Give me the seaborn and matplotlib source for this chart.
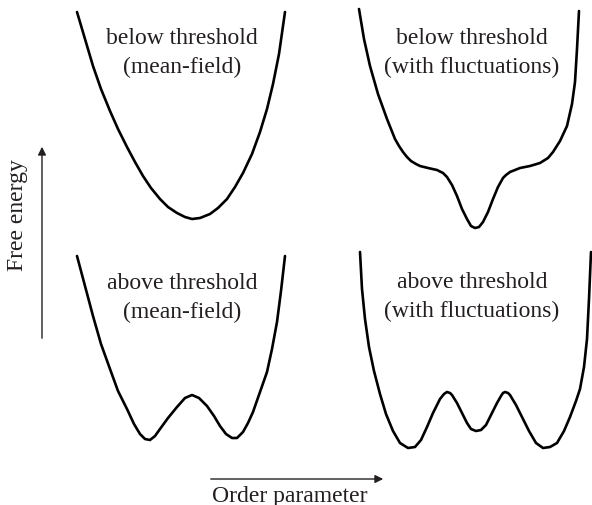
import pandas as pd
import seaborn as sns
import matplotlib.pyplot as plt
from matplotlib.patches import FancyArrowPatch

sns.set_style("white")
plt.rcParams['font.family'] = ['Liberation Serif', 'DejaVu Serif']

# Order parameter (x) and free energy (y), one pair per panel
below_mf_x = [17, 25, 33, 41, 50, 58, 67, 75, 83, 91, 100, 108, 117, 125, 132,
              140, 150, 158, 167, 175, 183, 192, 200, 207, 213, 219, 225]
below_mf_y = [227, 200, 173, 150, 128, 110, 92, 77, 63, 51, 40, 32, 26, 22, 20,
              21, 25, 31, 40, 52, 66, 85, 107, 130, 155, 185, 227]

below_fl_x = [19, 24, 30, 38, 47, 55, 59, 63, 67, 71, 76, 80, 88, 97, 103, 107, 112, 117, 122,
              127, 131, 135, 139, 143, 148, 153, 158, 163, 166, 170, 175, 180, 190, 200, 208,
              213, 220, 227, 232, 235, 237, 239]
below_fl_y = [230, 200, 173, 145, 120, 100, 93, 87, 82, 78, 75, 73, 71, 69, 66, 62, 54, 43, 30,
              20, 13, 11, 12, 17, 27, 40, 52, 61, 64, 67, 69, 71, 73, 76, 81,
              87, 98, 113, 135, 157, 190, 228]

above_mf_x = [17, 25, 33, 41, 50, 58, 67, 74, 80, 85, 90, 95, 100, 108, 117, 125, 132,
              139, 147, 154, 160, 166, 172, 177, 183, 188, 193, 200, 207, 212, 217, 221, 225]
above_mf_y = [203, 173, 143, 115, 90, 68, 50, 35, 25, 20, 19, 23, 30, 41, 52, 61, 64,
              61, 53, 43, 33, 25, 21, 21, 27, 36, 47, 67, 87, 110, 137, 168, 203]

above_fl_x = [20, 22, 25, 29, 34, 40, 46, 53, 60, 68, 75, 81, 87, 93, 100, 104, 107, 110, 112,
              117, 122, 127, 131, 136, 141, 146, 151, 157, 161, 163, 165, 168, 170, 176, 182,
              189, 196, 203, 210, 217, 224, 230, 236, 240, 244, 247, 249, 251]
above_fl_y = [207, 170, 140, 112, 88, 65, 45, 28, 16, 11, 12, 19, 32, 46, 60, 65, 67, 66, 64,
              56, 46, 36, 30, 28, 29, 34, 44, 56, 63, 66, 67, 66, 64, 54, 42,
              28, 16, 11, 12, 16, 28, 42, 58, 70, 92, 120, 160, 207]

titles = ["below threshold\n(mean-field)", "below threshold\n(with fluctuations)",
          "above threshold\n(mean-field)", "above threshold\n(with fluctuations)"]
x_label = "Order parameter"
y_label = "Free energy"

W, H = 592, 506
fig = plt.figure(figsize=(W / 100, H / 100), dpi=100)

panels = [
    (below_mf_x, below_mf_y, [60, 0, 250, 240], (122, 187)),
    (below_fl_x, below_fl_y, [340, 0, 252, 240], (132, 187)),
    (above_mf_x, above_mf_y, [60, 240, 250, 220], (122, 162)),
    (above_fl_x, above_fl_y, [340, 240, 252, 220], (132, 163)),
]

for (xs, ys, box, tpos), title in zip(panels, titles):
    left, top, w, h = box
    ax = fig.add_axes([left / W, 1 - (top + h) / H, w / W, h / H])
    df = pd.DataFrame({"order": xs, "energy": ys})
    sns.lineplot(data=df, x="order", y="energy", sort=False, color="black",
                 linewidth=1.9, ax=ax)
    ax.lines[0].set_solid_joinstyle("round")
    ax.lines[0].set_solid_capstyle("round")
    ax.text(tpos[0], tpos[1], title, ha="center", va="center", fontsize=17,
            color="#231f20", linespacing=1.5)
    ax.set_xlim(0, w)
    ax.set_ylim(0, h)
    ax.axis("off")

# axis arrows
fig.patches.append(FancyArrowPatch(
    (42 / W, 1 - 342 / H), (42 / W, 1 - 145 / H), transform=fig.transFigure,
    arrowstyle="-|>", mutation_scale=12, lw=1.0, color="#231f20"))
fig.patches.append(FancyArrowPatch(
    (208 / W, 1 - 480 / H), (386 / W, 1 - 480 / H), transform=fig.transFigure,
    arrowstyle="-|>", mutation_scale=12, lw=1.0, color="#231f20"))
fig.text(18 / W, 1 - 215 / H, y_label, rotation=90, ha="center", va="center",
         fontsize=17, color="#231f20")
fig.text(290 / W, 1 - 497 / H, x_label, ha="center", va="center",
         fontsize=17, color="#231f20")

fig.savefig("out.png", dpi=100)
